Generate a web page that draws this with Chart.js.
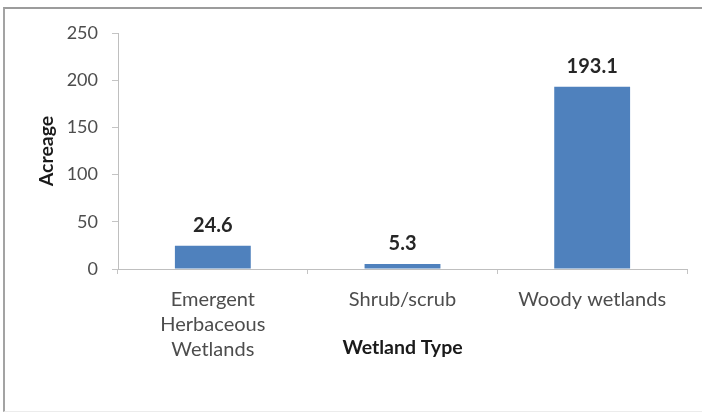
<!DOCTYPE html>
<html>
<head>
<meta charset="utf-8">
<script src="https://cdn.jsdelivr.net/npm/chart.js@4/dist/chart.umd.min.js"></script>
<style>
  html, body { margin: 0; padding: 0; background: #fff; }
  #wrap { position: relative; width: 702px; height: 415px; }
  #c { position: absolute; left: 0; top: 0; }
  #frame { position: absolute; left: 3px; top: 7px; width: 720px; height: 402px;
           border-left: 2px solid #a3a3a3; border-top: 2px solid #9c9c9c; border-bottom: 1px solid #ececec;
           pointer-events: none; }
</style>
</head>
<body>
<div id="wrap">
  <canvas id="c" width="702" height="415"></canvas>
  <div id="frame"></div>
</div>
<script>
const categories = [["Emergent", "Herbaceous", "Wetlands"], "Shrub/scrub", "Woody wetlands"];
const acreage = [24.6, 5.3, 193.1];
const valueLabels = ["24.6", "5.3", "193.1"];
const yTicks = [0, 50, 100, 150, 200, 250];

const barLabels = {
  id: 'barLabels',
  afterDatasetsDraw(chart) {
    const ctx = chart.ctx;
    const meta = chart.getDatasetMeta(0);
    ctx.save();
    ctx.font = 'bold 20px Lato';
    ctx.fillStyle = '#262626';
    ctx.textAlign = 'center';
    ctx.textBaseline = 'alphabetic';
    meta.data.forEach((bar, i) => {
      ctx.fillText(valueLabels[i], bar.x, bar.y - 14);
    });
    ctx.restore();
  }
};

new Chart(document.getElementById('c'), {
  type: 'bar',
  data: {
    labels: categories,
    datasets: [{
      data: acreage,
      backgroundColor: '#4F81BD',
      borderWidth: 0,
      barPercentage: 0.4,
      categoryPercentage: 1.0
    }]
  },
  options: {
    responsive: false,
    animation: false,
    devicePixelRatio: 1,
    layout: { padding: { left: 0, right: 15, top: 33, bottom: 0 } },
    plugins: { legend: { display: false }, tooltip: { enabled: false } },
    scales: {
      x: {
        grid: { display: true, drawOnChartArea: false, drawTicks: true, tickLength: 5, color: '#c4c4c4', offset: true },
        border: { display: true, color: '#bfbfbf', width: 1 },
        ticks: { color: '#4d4d4d', font: { family: 'Lato', size: 20, lineHeight: 1.25 }, padding: 13, maxRotation: 0, autoSkip: false },
        title: { display: true, text: 'Wetland Type', color: '#1a1a1a', font: { family: 'Lato', size: 19.5, weight: 'bold', lineHeight: 1.2 }, padding: { top: 0, bottom: 55.5 } },
        afterFit(scale) { scale.height = 146; }
      },
      y: {
        min: 0, max: 250,
        afterBuildTicks(scale) { scale.ticks = yTicks.map(v => ({ value: v })); },
        grid: { display: true, drawOnChartArea: false, drawTicks: true, tickLength: 6, color: '#c4c4c4' },
        border: { display: true, color: '#bfbfbf', width: 1 },
        ticks: { color: '#4d4d4d', font: { family: 'Lato', size: 18 }, padding: 14 },
        title: { display: true, text: 'Acreage', color: '#1a1a1a', font: { family: 'Lato', size: 19.5, weight: 'bold', lineHeight: 1.2 }, padding: { top: 35.3, bottom: 0 } },
        afterFit(scale) { scale.width = 118; }
      }
    }
  },
  plugins: [barLabels]
});
</script>
</body>
</html>
